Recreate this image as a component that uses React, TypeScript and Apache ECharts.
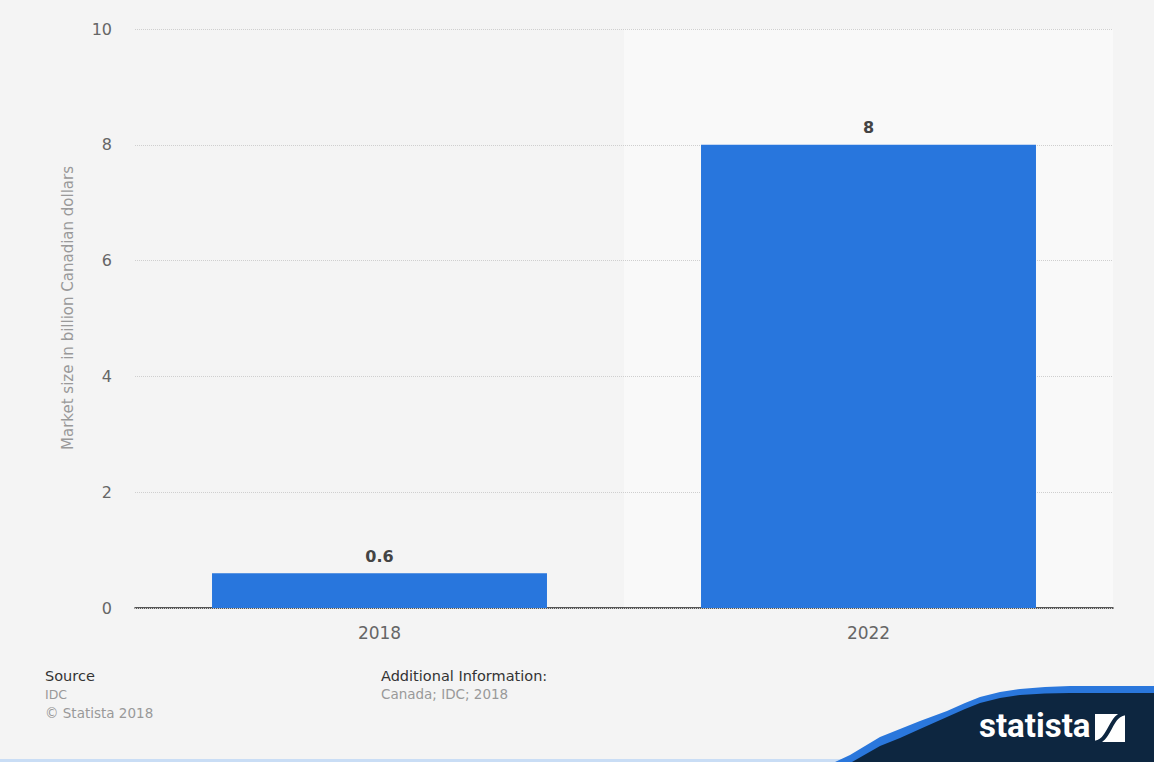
import React, { useEffect, useRef } from "react";
import * as echarts from "echarts";

const categories = ["2018", "2022"];
const marketSize = [0.6, 8];
const yTicks = { min: 0, max: 10, interval: 2 };
const axisName = "Market size in billion Canadian dollars";
const sourceLines = ["IDC", "© Statista 2018"];
const additionalInfo = "Canada; IDC; 2018";

const FONT = "DejaVu Sans, Noto Sans, sans-serif";

function txt(text: string, x: number, y: number, fill: string, fontSize: number) {
  return {
    type: "text",
    x,
    y,
    style: { text, fill, fontSize, fontFamily: FONT, verticalAlign: "middle", align: "left" },
  };
}

export default function App() {
  const ref = useRef<HTMLDivElement>(null);
  useEffect(() => {
    if (!ref.current) return;
    const chart = echarts.init(ref.current, undefined, { renderer: "svg" });
    chart.setOption({
      animation: false,
      backgroundColor: "#f4f4f4",
      grid: { left: 135, right: 41, top: 29, bottom: 154 },
      xAxis: {
        type: "category",
        data: categories,
        z: 0,
        axisLine: { show: true, lineStyle: { color: "#222", width: 1.5 } },
        axisTick: { show: false },
        axisLabel: { color: "#666", fontSize: 17, fontFamily: FONT, margin: 16 },
        splitArea: { show: true, areaStyle: { color: ["rgba(0,0,0,0)", "#f9f9f9"] } },
        splitLine: { show: false },
      },
      yAxis: {
        type: "value",
        min: yTicks.min,
        max: yTicks.max,
        interval: yTicks.interval,
        z: 1,
        axisLine: { show: false },
        axisTick: { show: false },
        axisLabel: { color: "#666", fontSize: 16, fontFamily: FONT, margin: 23 },
        splitLine: { lineStyle: { color: "#cfcfcf", type: "dotted", width: 1 } },
      },
      series: [
        {
          type: "bar",
          data: marketSize,
          barWidth: "68.5%",
          itemStyle: { color: "#2876dd" },
          label: {
            show: true,
            position: "top",
            distance: 9,
            color: "#444",
            fontWeight: "bold",
            fontSize: 16,
            fontFamily: FONT,
          },
          z: 3,
        },
      ],
      graphic: [
        {
          type: "text",
          x: 68,
          y: 308,
          rotation: Math.PI / 2,
          style: {
            text: axisName,
            fill: "#999",
            fontSize: 15,
            fontFamily: FONT,
            align: "center",
            verticalAlign: "middle",
          },
        },
        txt("Source", 45, 676, "#333", 14.5),
        txt(sourceLines[0], 45, 694, "#999", 12.5),
        txt(sourceLines[1], 45, 713, "#999", 13.5),
        txt("Additional Information:", 381, 676, "#333", 14.5),
        txt(additionalInfo, 381, 694, "#999", 13.5),
        // light blue bottom line
        { type: "rect", shape: { x: 0, y: 759, width: 1154, height: 3 }, style: { fill: "#c9ddf5" } },
        // blue stripe
        {
          type: "polygon",
          shape: {
            points: [
              [835, 762], [850, 755], [865, 746], [880, 737], [900, 729], [920, 721], [947, 711],
              [965, 703], [980, 697], [1000, 692], [1020, 689], [1045, 687], [1070, 686], [1154, 686],
              [1154, 762],
            ],
          },
          style: { fill: "#2a77dc" },
        },
        // navy shape
        {
          type: "polygon",
          shape: {
            points: [
              [852, 762], [866, 754], [880, 746], [900, 738], [920, 729], [947, 717], [965, 709],
              [980, 703], [1000, 698], [1020, 695], [1045, 693.5], [1070, 693], [1154, 693],
              [1154, 762],
            ],
          },
          style: { fill: "#0d2640" },
        },
        {
          type: "text",
          left: 979,
          top: 709,
          style: {
            text: "statista",
            fill: "#ffffff",
            fontSize: 33,
            fontWeight: "bold",
            fontFamily: "Liberation Sans Narrow, Roboto, sans-serif",
          },
        },
        { type: "rect", shape: { x: 1095, y: 714, width: 30, height: 28 }, style: { fill: "#ffffff" } },
        {
          type: "bezierCurve",
          shape: { x1: 1092, y1: 743, cpx1: 1112, cpy1: 743, cpx2: 1108, cpy2: 713, x2: 1128, y2: 713 },
          style: { stroke: "#0d2640", lineWidth: 4, fill: null },
        },
      ],
    });
    return () => chart.dispose();
  }, []);
  return <div ref={ref} style={{ width: 1154, height: 762, position: "absolute", left: 0, top: 0 }} />;
}
